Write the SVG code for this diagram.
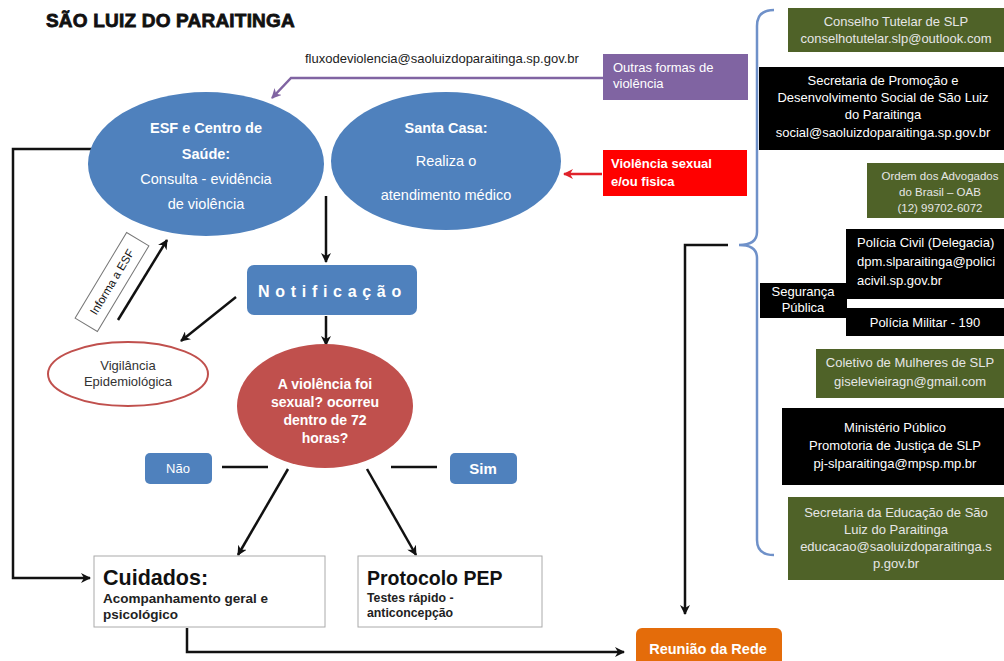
<svg xmlns="http://www.w3.org/2000/svg" width="1004" height="661" viewBox="0 0 1004 661">
<style>
text{font-family:"Liberation Sans",Arial,sans-serif}
.w{fill:#fff}
.lg{fill:#e6e6e6}
.b{font-weight:bold}
.c{text-anchor:middle}
.blk{fill:none;stroke:#111;stroke-width:2.5}
</style>
<defs>
<marker id="ah" viewBox="0 0 10 10" refX="9" refY="5" markerWidth="4" markerHeight="4" orient="auto"><path d="M0,0 L10,5 L0,10 L3,5 z" fill="#111"/></marker>
<marker id="ahp" viewBox="0 0 10 10" refX="9" refY="5" markerWidth="4" markerHeight="4" orient="auto"><path d="M0,0 L10,5 L0,10 L3,5 z" fill="#8064a2"/></marker>
<marker id="ahr" viewBox="0 0 10 10" refX="9" refY="5" markerWidth="4" markerHeight="4" orient="auto"><path d="M0,0 L10,5 L0,10 L3,5 z" fill="#e0222a"/></marker>
</defs>
<rect width="1004" height="661" fill="#fff"/>
<text x="46" y="27" font-size="19" font-weight="900" fill="#111" stroke="#111" stroke-width="0.8" letter-spacing="0.2">SÃO LUIZ DO PARAITINGA</text>
<text x="305" y="63" font-size="13" fill="#222">fluxodeviolencia@saoluizdoparaitinga.sp.gov.br</text>

<g id="connectors">
<path d="M603 78 L291 78 L272 98" fill="none" stroke="#8064a2" stroke-width="2.5" marker-end="url(#ahp)"/>
<path d="M602 174 L564 174" fill="none" stroke="#e0222a" stroke-width="2.5" marker-end="url(#ahr)"/>
<path class="blk" d="M326 196 L326 262" marker-end="url(#ah)"/>
<path class="blk" d="M236 297 L181 341" marker-end="url(#ah)"/>
<path class="blk" d="M326 316 L326 345" marker-end="url(#ah)"/>
<path class="blk" d="M118 320 L167 240" marker-end="url(#ah)"/>
<path class="blk" d="M222 467 L268 467"/>
<path class="blk" d="M391 467 L437 467"/>
<path class="blk" d="M288 469 L238 555" marker-end="url(#ah)"/>
<path class="blk" d="M367 469 L416 555" marker-end="url(#ah)"/>
<path class="blk" d="M93 149 L13 149 L13 578 L90 578" marker-end="url(#ah)"/>
<path class="blk" d="M187 628 L187 652 L624 652" marker-end="url(#ah)"/>
<path class="blk" d="M728 245 L685 245 L685 614" marker-end="url(#ah)"/>
<path d="M774 10 Q757 10 757 26 L757 232 Q757 245 739 245 Q757 245 757 258 L757 540 Q757 555 774 555" fill="none" stroke="#6f91c9" stroke-width="2.5"/>
</g>

<g id="esf">
<ellipse cx="206" cy="164" rx="118" ry="72" fill="#4f81bd"/>
<text class="w c b" x="206" y="133" font-size="14.5">ESF e Centro de</text>
<text class="w c b" x="206" y="159" font-size="14.5">Saúde:</text>
<text class="w c" x="206" y="184" font-size="14.5">Consulta - evidência</text>
<text class="w c" x="206" y="209" font-size="14.5">de violência</text>
</g>

<g id="santa-casa">
<ellipse cx="446" cy="161" rx="115" ry="69" fill="#4f81bd"/>
<text class="w c b" x="446" y="133" font-size="14.5">Santa Casa:</text>
<text class="w c" x="446" y="166" font-size="14.5">Realiza o</text>
<text class="w c" x="446" y="200" font-size="14.5">atendimento médico</text>
</g>

<g id="outras">
<rect x="603" y="54" width="145" height="46" fill="#8064a2"/>
<text class="w" x="613" y="72" font-size="13">Outras formas de</text>
<text class="w" x="613" y="88" font-size="13">violência</text>
</g>

<g id="violencia-sexual">
<rect x="603" y="150" width="144" height="46" fill="#ff0000"/>
<text class="w b" x="611" y="168" font-size="13">Violência sexual</text>
<text class="w b" x="611" y="186" font-size="13">e/ou fisica</text>
</g>

<g id="notificacao">
<rect x="247" y="265" width="170" height="50" rx="7" fill="#4f81bd"/>
<text class="w b" x="258" y="297" font-size="16" letter-spacing="5.7">Notificação</text>
</g>

<g id="informa">
<g transform="translate(112 282) rotate(-59)">
<rect x="-50" y="-13" width="100" height="26" fill="#fff" stroke="#777" stroke-width="1"/>
<text class="c" x="0" y="4" font-size="11.5" fill="#111">Informa a ESF</text>
</g>
</g>

<g id="vigilancia">
<ellipse cx="128" cy="374" rx="80" ry="32" fill="#fff" stroke="#c0504d" stroke-width="2"/>
<text class="c" x="128" y="370" font-size="13" fill="#333">Vigilância</text>
<text class="c" x="128" y="386" font-size="13" fill="#333">Epidemiológica</text>
</g>

<g id="pergunta">
<ellipse cx="325" cy="406" rx="88" ry="62" fill="#c0504d"/>
<text class="w c b" x="325" y="389" font-size="14">A violência foi</text>
<text class="w c b" x="325" y="407" font-size="14">sexual? ocorreu</text>
<text class="w c b" x="325" y="425" font-size="14">dentro de 72</text>
<text class="w c b" x="325" y="443" font-size="14">horas?</text>
</g>

<g id="nao">
<rect x="145" y="453" width="67" height="31" rx="5" fill="#4f81bd"/>
<text class="w c" x="178" y="473" font-size="13">Não</text>
</g>

<g id="sim">
<rect x="450" y="453" width="67" height="31" rx="5" fill="#4f81bd"/>
<text class="w c b" x="483" y="474" font-size="15">Sim</text>
</g>

<g id="cuidados">
<rect x="94" y="556" width="231" height="71" fill="#fff" stroke="#aaa" stroke-width="1"/>
<text class="b" x="103" y="585" font-size="21.5" fill="#111">Cuidados:</text>
<text class="b" x="103" y="603" font-size="13.5" fill="#222">Acompanhamento geral e</text>
<text class="b" x="103" y="619" font-size="13.5" fill="#222">psicológico</text>
</g>

<g id="protocolo">
<rect x="358" y="556" width="184" height="71" fill="#fff" stroke="#aaa" stroke-width="1"/>
<text class="b" x="367" y="585" font-size="19.5" fill="#111">Protocolo PEP</text>
<text class="b" x="367" y="602" font-size="12.3" fill="#222">Testes rápido -</text>
<text class="b" x="367" y="617" font-size="12.3" fill="#222">anticoncepção</text>
</g>

<g id="reuniao">
<rect x="636" y="628" width="146" height="45" rx="6" fill="#e46c0a"/>
<text class="w c b" x="708" y="654" font-size="14.5">Reunião da Rede</text>
</g>

<g id="conselho">
<rect x="788" y="8" width="216" height="44" fill="#4f6228"/>
<text class="lg c" x="896" y="26" font-size="13">Conselho Tutelar de SLP</text>
<text class="lg c" x="896" y="43" font-size="13">conselhotutelar.slp@outlook.com</text>
</g>

<g id="secretaria-promocao">
<rect x="759" y="67" width="245" height="83" fill="#000"/>
<text class="w c" x="883" y="85" font-size="13">Secretaria de Promoção e</text>
<text class="w c" x="883" y="102" font-size="13">Desenvolvimento Social de São Luiz</text>
<text class="w c" x="883" y="119" font-size="13">do Paraitinga</text>
<text class="w c" x="883" y="137" font-size="13">social@saoluizdoparaitinga.sp.gov.br</text>
</g>

<g id="oab">
<rect x="867" y="163" width="137" height="55" fill="#4f6228"/>
<text class="lg c" x="940" y="180" font-size="11.5">Ordem dos Advogados</text>
<text class="lg c" x="940" y="196" font-size="11.5">do Brasil – OAB</text>
<text class="lg c" x="940" y="212" font-size="11.5">(12) 99702-6072</text>
</g>

<g id="policia-civil">
<rect x="846" y="229" width="158" height="70" fill="#000"/>
<text class="w" x="857" y="247" font-size="13">Polícia Civil (Delegacia)</text>
<text class="w" x="857" y="266" font-size="13">dpm.slparaitinga@polici</text>
<text class="w" x="857" y="285" font-size="13">acivil.sp.gov.br</text>
</g>

<g id="seguranca">
<rect x="760" y="283" width="87" height="35" fill="#000"/>
<text class="w c" x="803" y="296" font-size="13">Segurança</text>
<text class="w c" x="803" y="312" font-size="13">Pública</text>
</g>

<g id="policia-militar">
<rect x="846" y="308" width="158" height="28" fill="#000"/>
<text class="w c" x="925" y="327" font-size="13">Polícia Militar - 190</text>
</g>

<g id="coletivo">
<rect x="816" y="349" width="188" height="49" fill="#4f6228"/>
<text class="lg c" x="910" y="367" font-size="13">Coletivo de Mulheres de SLP</text>
<text class="lg c" x="910" y="386" font-size="13">giselevieiragn@gmail.com</text>
</g>

<g id="ministerio">
<rect x="782" y="408" width="222" height="77" fill="#000"/>
<text class="w c" x="895" y="432" font-size="13">Ministério Público</text>
<text class="w c" x="895" y="450" font-size="13">Promotoria de Justiça de SLP</text>
<text class="w c" x="895" y="468" font-size="13">pj-slparaitinga@mpsp.mp.br</text>
</g>

<g id="educacao">
<rect x="788" y="497" width="216" height="83" fill="#4f6228"/>
<text class="lg c" x="896" y="517" font-size="13">Secretaria da Educação de São</text>
<text class="lg c" x="896" y="534" font-size="13">Luiz do Paraitinga</text>
<text class="lg c" x="896" y="551" font-size="13">educacao@saoluizdoparaitinga.s</text>
<text class="lg c" x="896" y="568" font-size="13">p.gov.br</text>
</g>
</svg>
